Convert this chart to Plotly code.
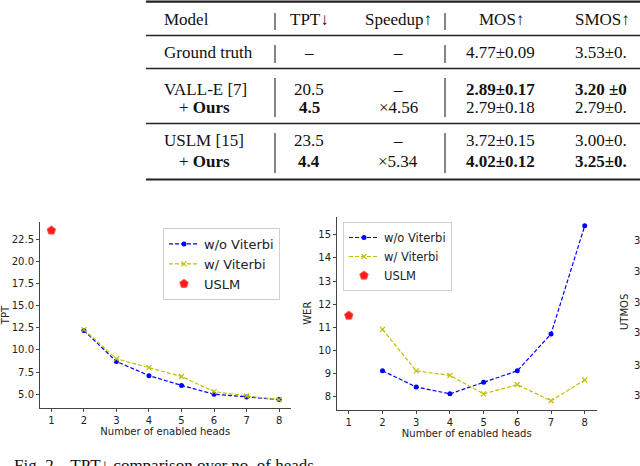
import plotly.graph_objects as go

W, H = 640, 466

# ---- data ----
heads = [2, 3, 4, 5, 6, 7, 8]
tpt_wo_viterbi = [12.2, 8.7, 7.1, 6.0, 5.0, 4.7, 4.4]
tpt_w_viterbi = [12.3, 9.0, 8.0, 7.0, 5.3, 4.8, 4.4]
tpt_uslm = [23.5]
wer_wo_viterbi = [9.1, 8.4, 8.1, 8.6, 9.1, 10.7, 15.4]
wer_w_viterbi = [10.9, 9.1, 8.9, 8.1, 8.5, 7.8, 8.7]
wer_uslm = [11.5]
uslm_heads = [1]

tpt_ticks = [5.0, 7.5, 10.0, 12.5, 15.0, 17.5, 20.0, 22.5]
wer_ticks = [8, 9, 10, 11, 12, 13, 14, 15]
head_ticks = [1, 2, 3, 4, 5, 6, 7, 8]

table_header = ["Model", "TPT↓", "Speedup↑", "MOS↑", "SMOS↑"]
table_models = ["Ground truth", "VALL-E [7]", "+ <b>Ours</b>", "USLM [15]", "+ <b>Ours</b>"]
table_tpt = ["–", "20.5", "<b>4.5</b>", "23.5", "<b>4.4</b>"]
table_speedup = ["–", "–", "×4.56", "–", "×5.34"]
table_mos = ["4.77±0.09", "<b>2.89±0.17</b>", "2.79±0.18", "3.72±0.15", "<b>4.02±0.12</b>"]
table_smos = ["3.53±0.", "<b>3.20 ±0</b>", "2.79±0.", "3.00±0.", "<b>3.25±0.</b>"]
utmos_ticks = ["3", "3", "3", "3", "3", "3"]


def px(x):
    return x / W


def py(y):
    return 1 - y / H


BLUE = "#0000ff"
YELLOW = "#bfbf00"
RED = "#ff1a1a"
DASH = "4px,2px"
CHART_FONT = "DejaVu Sans"
SERIF = "Liberation Serif"

fig = go.Figure()

# ---- left chart: TPT ----
fig.add_trace(go.Scatter(
    x=heads, y=tpt_wo_viterbi, name="w/o Viterbi", mode="lines+markers",
    line=dict(color=BLUE, width=1.2, dash=DASH),
    marker=dict(color=BLUE, size=5, symbol="circle"),
    xaxis="x", yaxis="y", legend="legend"
))
fig.add_trace(go.Scatter(
    x=heads, y=tpt_w_viterbi, name="w/ Viterbi", mode="lines+markers",
    line=dict(color=YELLOW, width=1.2, dash=DASH),
    marker=dict(color=YELLOW, size=5, symbol="x-thin", line=dict(color=YELLOW, width=1.2)),
    xaxis="x", yaxis="y", legend="legend"
))
fig.add_trace(go.Scatter(
    x=uslm_heads, y=tpt_uslm, name="USLM", mode="markers",
    marker=dict(color=RED, size=9, symbol="pentagon", line=dict(color="#ff6060", width=1)),
    xaxis="x", yaxis="y", legend="legend"
))

# ---- middle chart: WER ----
fig.add_trace(go.Scatter(
    x=heads, y=wer_wo_viterbi, name="w/o Viterbi", mode="lines+markers",
    line=dict(color=BLUE, width=1.2, dash=DASH),
    marker=dict(color=BLUE, size=5, symbol="circle"),
    xaxis="x2", yaxis="y2", legend="legend2"
))
fig.add_trace(go.Scatter(
    x=heads, y=wer_w_viterbi, name="w/ Viterbi", mode="lines+markers",
    line=dict(color=YELLOW, width=1.2, dash=DASH),
    marker=dict(color=YELLOW, size=5, symbol="x-thin", line=dict(color=YELLOW, width=1.2)),
    xaxis="x2", yaxis="y2", legend="legend2"
))
fig.add_trace(go.Scatter(
    x=uslm_heads, y=wer_uslm, name="USLM", mode="markers",
    marker=dict(color=RED, size=9, symbol="pentagon", line=dict(color="#ff6060", width=1)),
    xaxis="x2", yaxis="y2", legend="legend2"
))

axis_style = dict(
    showgrid=False, zeroline=False, showline=True, linecolor="#444", linewidth=1,
    ticks="outside", ticklen=3, tickwidth=1, tickcolor="#444",
    tickfont=dict(family=CHART_FONT, size=10, color="#222"),
)
title_font = dict(family=CHART_FONT, size=10, color="#222")

fig.update_layout(
    xaxis=dict(domain=[px(40), px(290.5)], range=[0.65, 8.35], anchor="y",
               tickvals=head_ticks,
               title=dict(text="Number of enabled heads", standoff=0, font=title_font),
               **axis_style),
    yaxis=dict(domain=[py(408), py(222)], range=[3.445, 24.455], anchor="x",
               tickvals=tpt_ticks, tickformat=".1f",
               title=dict(text="TPT", standoff=2, font=title_font),
               **axis_style),
    xaxis2=dict(domain=[px(337), px(596.5)], range=[0.65, 8.35], anchor="y2",
                tickvals=head_ticks,
                title=dict(text="Number of enabled heads", standoff=0, font=title_font),
                **axis_style),
    yaxis2=dict(domain=[py(409.5), py(217)], range=[7.42, 15.78], anchor="x2",
                tickvals=wer_ticks,
                title=dict(text="WER", standoff=4, font=title_font),
                **axis_style),
    legend=dict(x=px(163), y=py(228), xanchor="left", yanchor="top",
                bgcolor="rgba(255,255,255,0.85)", bordercolor="#d0d0d0", borderwidth=1,
                font=dict(family=CHART_FONT, size=13, color="#222")),
    legend2=dict(x=px(343), y=py(222), xanchor="left", yanchor="top",
                 bgcolor="rgba(255,255,255,0.85)", bordercolor="#d0d0d0", borderwidth=1,
                 font=dict(family=CHART_FONT, size=11.5, color="#222")),
    width=W, height=H,
    margin=dict(l=0, r=0, t=0, b=0),
    paper_bgcolor="white", plot_bgcolor="white",
)

# ---- table above the charts ----
shapes = []
for y, w in [(1.7, 2.2), (35.5, 1.3), (68.5, 1.3), (123.5, 1.3), (179.5, 2.2)]:
    shapes.append(dict(type="line", xref="paper", yref="paper",
                       x0=px(146), x1=1.0, y0=py(y), y1=py(y),
                       line=dict(color="#222", width=w)))
for y0, y1 in [(13, 30), (45, 63), (78, 117), (133, 173)]:
    for x in [275, 445]:
        shapes.append(dict(type="line", xref="paper", yref="paper",
                           x0=px(x), x1=px(x), y0=py(y0), y1=py(y1),
                           line=dict(color="#333", width=1.2)))
fig.update_layout(shapes=shapes)

ann = []


def txt(x, y, s, anchor="center", size=17, family=SERIF, angle=0, color="#111"):
    ann.append(dict(x=px(x), y=py(y), xref="paper", yref="paper", text=s,
                    showarrow=False, xanchor=anchor, yanchor="middle",
                    textangle=angle, font=dict(family=family, size=size, color=color)))


header_x = [(162, "left"), (309, "center"), (398, "center"), (501, "center"), (573, "left")]
for (x, a), s in zip(header_x, table_header):
    txt(x, 19.5, s, a)

row_y = [52, 89.5, 107.5, 140, 162]
model_x = [162, 162, 177, 162, 177]
for i, y in enumerate(row_y):
    txt(model_x[i], y, table_models[i], "left")
    txt(309, y, table_tpt[i])
    txt(398, y, table_speedup[i])
    txt(500, y, table_mos[i])
    txt(573, y, table_smos[i], "left")

# ---- partial third chart at right edge ----
for y, s in zip([240, 271.5, 302.5, 332.5, 365, 395.5], utmos_ticks):
    txt(631.5, y, s, "left", size=10, family=CHART_FONT, color="#222")
txt(624, 312, "UTMOS", size=10, family=CHART_FONT, angle=-90, color="#222")

# ---- caption, cut by the bottom edge ----
txt(12, 465, "Fig. 2.   TPT↓ comparison over no. of heads", "left", size=17)

fig.update_layout(annotations=ann)

fig.write_html("out.html", config={"displayModeBar": False},
               post_script="document.body.style.margin='0';")
